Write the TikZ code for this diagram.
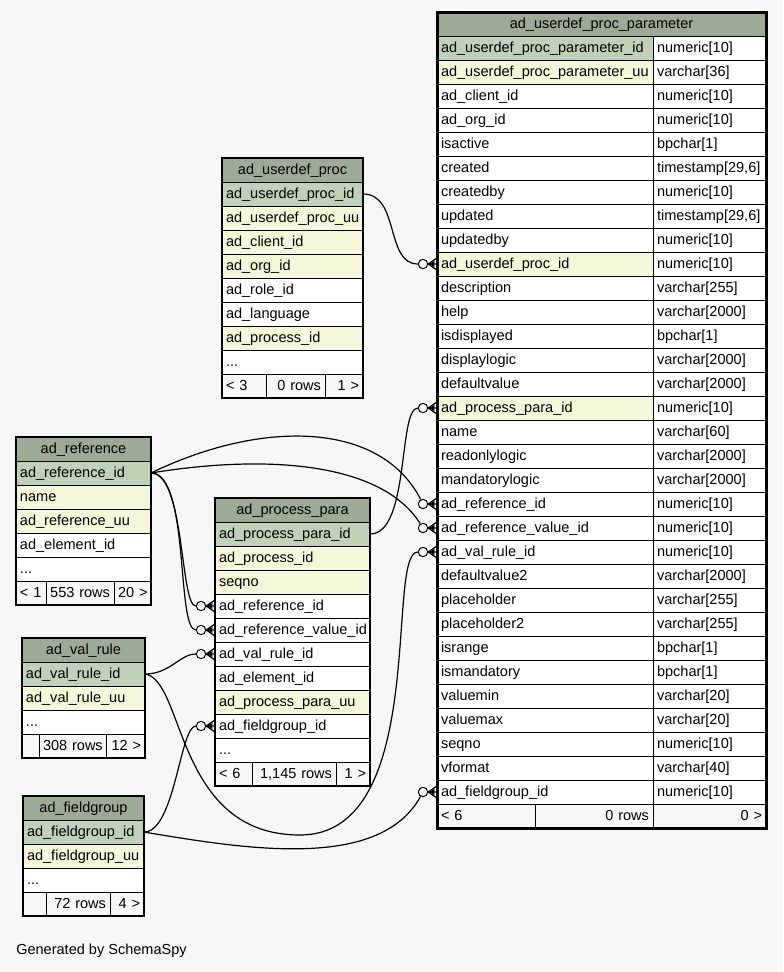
\documentclass[tikz,border=0pt]{standalone}
\usepackage{fontspec}
\setmainfont{Liberation Sans}
\usetikzlibrary{positioning}
\definecolor{bgc}{HTML}{F7F7F7}
\definecolor{hdrc}{HTML}{9DAB96}
\definecolor{pkc}{HTML}{BFD1B8}
\definecolor{fkc}{HTML}{F4F7DA}
\hyphenpenalty=10000
\exhyphenpenalty=10000
% crow's foot between a circle node and a row
\newcommand{\crowfoot}[2]{%
  \draw[line width=0.9pt] ([yshift=4.5pt]#2.west) -- (#1.east) -- ([yshift=-4.5pt]#2.west) (#1.east) -- (#2.west);
  \fill (#1.east) -- ([xshift=-2pt,yshift=2.2pt]#2.west) -- ([xshift=-2pt,yshift=-2.2pt]#2.west) -- cycle;}
\begin{document}
\begin{tikzpicture}[x=0.75pt,y=-0.75pt,
  cell/.style={draw, line width=0.75pt, anchor=north west, outer sep=0pt, inner xsep=3pt, inner ysep=0pt,
    minimum height=18pt, text height=8.5pt, text depth=2.5pt, align=left, font=\fontsize{10.9}{13}\selectfont},
  hdr/.style={cell, fill=hdrc, align=center},
  pk/.style={cell, fill=pkc},
  fk/.style={cell, fill=fkc},
  col/.style={cell, fill=white},
  ft/.style={cell, fill=bgc},
  ftr/.style={ft, align=right},
  odot/.style={circle, draw, line width=0.75pt, fill=bgc, minimum size=7pt, inner sep=0pt},
  link/.style={line width=0.9pt},
  uppn/.style={text width=156pt}, uppt/.style={text width=78.75pt},
  aupw/.style={text width=99.75pt}, refw/.style={text width=95.25pt}, ppw/.style={text width=110.25pt},
  vrw/.style={text width=86.25pt}, fgw/.style={text width=84.75pt}]
\fill[bgc] (0,0) rectangle (783,972);
\useasboundingbox (0,0) rectangle (783,972);

% ad_userdef_proc_parameter
\node[hdr, text width=240.75pt] (upp) at (437,12) {ad\_userdef\_proc\_parameter};
\node[pk, uppn] (upp-id) at (upp.south west) {ad\_userdef\_proc\_parameter\_id};
\node[col, uppt] (upp-id-t) at (upp-id.north east) {numeric[10]};
\node[fk, uppn] (upp-uu) at (upp-id.south west) {ad\_userdef\_proc\_parameter\_uu};
\node[col, uppt] (upp-uu-t) at (upp-uu.north east) {varchar[36]};
\node[col, uppn] (upp-client) at (upp-uu.south west) {ad\_client\_id};
\node[col, uppt] (upp-client-t) at (upp-client.north east) {numeric[10]};
\node[col, uppn] (upp-org) at (upp-client.south west) {ad\_org\_id};
\node[col, uppt] (upp-org-t) at (upp-org.north east) {numeric[10]};
\node[col, uppn] (upp-active) at (upp-org.south west) {isactive};
\node[col, uppt] (upp-active-t) at (upp-active.north east) {bpchar[1]};
\node[col, uppn] (upp-created) at (upp-active.south west) {created};
\node[col, uppt] (upp-created-t) at (upp-created.north east) {timestamp[29,6]};
\node[col, uppn] (upp-createdby) at (upp-created.south west) {createdby};
\node[col, uppt] (upp-createdby-t) at (upp-createdby.north east) {numeric[10]};
\node[col, uppn] (upp-updated) at (upp-createdby.south west) {updated};
\node[col, uppt] (upp-updated-t) at (upp-updated.north east) {timestamp[29,6]};
\node[col, uppn] (upp-updatedby) at (upp-updated.south west) {updatedby};
\node[col, uppt] (upp-updatedby-t) at (upp-updatedby.north east) {numeric[10]};
\node[fk, uppn] (upp-udp) at (upp-updatedby.south west) {ad\_userdef\_proc\_id};
\node[col, uppt] (upp-udp-t) at (upp-udp.north east) {numeric[10]};
\node[col, uppn] (upp-desc) at (upp-udp.south west) {description};
\node[col, uppt] (upp-desc-t) at (upp-desc.north east) {varchar[255]};
\node[col, uppn] (upp-help) at (upp-desc.south west) {help};
\node[col, uppt] (upp-help-t) at (upp-help.north east) {varchar[2000]};
\node[col, uppn] (upp-disp) at (upp-help.south west) {isdisplayed};
\node[col, uppt] (upp-disp-t) at (upp-disp.north east) {bpchar[1]};
\node[col, uppn] (upp-displogic) at (upp-disp.south west) {displaylogic};
\node[col, uppt] (upp-displogic-t) at (upp-displogic.north east) {varchar[2000]};
\node[col, uppn] (upp-defval) at (upp-displogic.south west) {defaultvalue};
\node[col, uppt] (upp-defval-t) at (upp-defval.north east) {varchar[2000]};
\node[fk, uppn] (upp-pp) at (upp-defval.south west) {ad\_process\_para\_id};
\node[col, uppt] (upp-pp-t) at (upp-pp.north east) {numeric[10]};
\node[col, uppn] (upp-name) at (upp-pp.south west) {name};
\node[col, uppt] (upp-name-t) at (upp-name.north east) {varchar[60]};
\node[col, uppn] (upp-rologic) at (upp-name.south west) {readonlylogic};
\node[col, uppt] (upp-rologic-t) at (upp-rologic.north east) {varchar[2000]};
\node[col, uppn] (upp-mandlogic) at (upp-rologic.south west) {mandatorylogic};
\node[col, uppt] (upp-mandlogic-t) at (upp-mandlogic.north east) {varchar[2000]};
\node[col, uppn] (upp-ref) at (upp-mandlogic.south west) {ad\_reference\_id};
\node[col, uppt] (upp-ref-t) at (upp-ref.north east) {numeric[10]};
\node[col, uppn] (upp-refval) at (upp-ref.south west) {ad\_reference\_value\_id};
\node[col, uppt] (upp-refval-t) at (upp-refval.north east) {numeric[10]};
\node[col, uppn] (upp-vr) at (upp-refval.south west) {ad\_val\_rule\_id};
\node[col, uppt] (upp-vr-t) at (upp-vr.north east) {numeric[10]};
\node[col, uppn] (upp-defval2) at (upp-vr.south west) {defaultvalue2};
\node[col, uppt] (upp-defval2-t) at (upp-defval2.north east) {varchar[2000]};
\node[col, uppn] (upp-ph) at (upp-defval2.south west) {placeholder};
\node[col, uppt] (upp-ph-t) at (upp-ph.north east) {varchar[255]};
\node[col, uppn] (upp-ph2) at (upp-ph.south west) {placeholder2};
\node[col, uppt] (upp-ph2-t) at (upp-ph2.north east) {varchar[255]};
\node[col, uppn] (upp-range) at (upp-ph2.south west) {isrange};
\node[col, uppt] (upp-range-t) at (upp-range.north east) {bpchar[1]};
\node[col, uppn] (upp-mand) at (upp-range.south west) {ismandatory};
\node[col, uppt] (upp-mand-t) at (upp-mand.north east) {bpchar[1]};
\node[col, uppn] (upp-vmin) at (upp-mand.south west) {valuemin};
\node[col, uppt] (upp-vmin-t) at (upp-vmin.north east) {varchar[20]};
\node[col, uppn] (upp-vmax) at (upp-vmin.south west) {valuemax};
\node[col, uppt] (upp-vmax-t) at (upp-vmax.north east) {varchar[20]};
\node[col, uppn] (upp-seq) at (upp-vmax.south west) {seqno};
\node[col, uppt] (upp-seq-t) at (upp-seq.north east) {numeric[10]};
\node[col, uppn] (upp-vformat) at (upp-seq.south west) {vformat};
\node[col, uppt] (upp-vformat-t) at (upp-vformat.north east) {varchar[40]};
\node[col, uppn] (upp-fg) at (upp-vformat.south west) {ad\_fieldgroup\_id};
\node[col, uppt] (upp-fg-t) at (upp-fg.north east) {numeric[10]};
\node[ft, text width=67.5pt] (upp-f1) at (upp-fg.south west) {<~6};
\node[ftr, text width=82.5pt] (upp-f2) at (upp-f1.north east) {0~rows};
\node[ftr, text width=78.75pt] (upp-f3) at (upp-f2.north east) {0~>};
\draw[line width=2.25pt] (upp.north west) rectangle (upp-f3.south east);

% ad_userdef_proc
\node[hdr, aupw] (aup) at (222,158) {ad\_userdef\_proc};
\node[pk, aupw] (aup-id) at (aup.south west) {ad\_userdef\_proc\_id};
\node[fk, aupw] (aup-uu) at (aup-id.south west) {ad\_userdef\_proc\_uu};
\node[fk, aupw] (aup-client) at (aup-uu.south west) {ad\_client\_id};
\node[fk, aupw] (aup-org) at (aup-client.south west) {ad\_org\_id};
\node[col, aupw] (aup-role) at (aup-org.south west) {ad\_role\_id};
\node[col, aupw] (aup-lang) at (aup-role.south west) {ad\_language};
\node[fk, aupw] (aup-proc) at (aup-lang.south west) {ad\_process\_id};
\node[col, aupw] (aup-more) at (aup-proc.south west) {...};
\node[ft, text width=27pt] (aup-f1) at (aup-more.south west) {<~3};
\node[ftr, text width=38.25pt] (aup-f2) at (aup-f1.north east) {0~rows};
\node[ftr, text width=22.5pt] (aup-f3) at (aup-f2.north east) {1~>};
\draw[line width=1.1pt] (aup.north west) rectangle (aup-f3.south east);

% ad_reference
\node[hdr, refw] (ref) at (16,437) {ad\_reference};
\node[pk, refw] (ref-id) at (ref.south west) {ad\_reference\_id};
\node[fk, refw] (ref-name) at (ref-id.south west) {name};
\node[fk, refw] (ref-uu) at (ref-name.south west) {ad\_reference\_uu};
\node[col, refw] (ref-elem) at (ref-uu.south west) {ad\_element\_id};
\node[col, refw] (ref-more) at (ref-elem.south west) {...};
\node[ft, text width=16.5pt] (ref-f1) at (ref-more.south west) {<~1};
\node[ftr, text width=45pt] (ref-f2) at (ref-f1.north east) {553~rows};
\node[ftr, text width=21.75pt] (ref-f3) at (ref-f2.north east) {20~>};
\draw[line width=1.1pt] (ref.north west) rectangle (ref-f3.south east);

% ad_process_para
\node[hdr, ppw] (pp) at (215,498) {ad\_process\_para};
\node[pk, ppw] (pp-id) at (pp.south west) {ad\_process\_para\_id};
\node[fk, ppw] (pp-proc) at (pp-id.south west) {ad\_process\_id};
\node[fk, ppw] (pp-seq) at (pp-proc.south west) {seqno};
\node[col, ppw] (pp-ref) at (pp-seq.south west) {ad\_reference\_id};
\node[col, ppw] (pp-refval) at (pp-ref.south west) {ad\_reference\_value\_id};
\node[col, ppw] (pp-vr) at (pp-refval.south west) {ad\_val\_rule\_id};
\node[col, ppw] (pp-elem) at (pp-vr.south west) {ad\_element\_id};
\node[fk, ppw] (pp-uu) at (pp-elem.south west) {ad\_process\_para\_uu};
\node[col, ppw] (pp-fg) at (pp-uu.south west) {ad\_fieldgroup\_id};
\node[col, ppw] (pp-more) at (pp-fg.south west) {...};
\node[ft, text width=21.75pt] (pp-f1) at (pp-more.south west) {<~6};
\node[ftr, text width=57pt] (pp-f2) at (pp-f1.north east) {1,145~rows};
\node[ftr, text width=19.5pt] (pp-f3) at (pp-f2.north east) {1~>};
\draw[line width=1.1pt] (pp.north west) rectangle (pp-f3.south east);

% ad_val_rule
\node[hdr, vrw] (vr) at (22,638) {ad\_val\_rule};
\node[pk, vrw] (vr-id) at (vr.south west) {ad\_val\_rule\_id};
\node[fk, vrw] (vr-uu) at (vr-id.south west) {ad\_val\_rule\_uu};
\node[col, vrw] (vr-more) at (vr-uu.south west) {...};
\node[ft, text width=6.75pt] (vr-f1) at (vr-more.south west) {};
\node[ftr, text width=44.25pt] (vr-f2) at (vr-f1.north east) {308~rows};
\node[ftr, text width=23.25pt] (vr-f3) at (vr-f2.north east) {12~>};
\draw[line width=1.1pt] (vr.north west) rectangle (vr-f3.south east);

% ad_fieldgroup
\node[hdr, fgw] (fg) at (23,796) {ad\_fieldgroup};
\node[pk, fgw] (fg-id) at (fg.south west) {ad\_fieldgroup\_id};
\node[fk, fgw] (fg-uu) at (fg-id.south west) {ad\_fieldgroup\_uu};
\node[col, fgw] (fg-more) at (fg-uu.south west) {...};
\node[ft, text width=11.25pt] (fg-f1) at (fg-more.south west) {};
\node[ftr, text width=42pt] (fg-f2) at (fg-f1.north east) {72~rows};
\node[ftr, text width=19.5pt] (fg-f3) at (fg-f2.north east) {4~>};
\draw[line width=1.1pt] (fg.north west) rectangle (fg-f3.south east);

% circles at the referencing ends
\node[odot] (o-upp-udp) at ([xshift=-10.5pt]upp-udp.west) {};
\node[odot] (o-upp-pp) at ([xshift=-10.5pt]upp-pp.west) {};
\node[odot] (o-upp-ref) at ([xshift=-10.5pt]upp-ref.west) {};
\node[odot] (o-upp-refval) at ([xshift=-10.5pt]upp-refval.west) {};
\node[odot] (o-upp-vr) at ([xshift=-10.5pt]upp-vr.west) {};
\node[odot] (o-upp-fg) at ([xshift=-10.5pt]upp-fg.west) {};
\node[odot] (o-pp-ref) at ([xshift=-10.5pt]pp-ref.west) {};
\node[odot] (o-pp-refval) at ([xshift=-10.5pt]pp-refval.west) {};
\node[odot] (o-pp-vr) at ([xshift=-10.5pt]pp-vr.west) {};
\node[odot] (o-pp-fg) at ([xshift=-10.5pt]pp-fg.west) {};

% relations
\draw[link] (aup-id.east) .. controls (400,194) and (385,264) .. (o-upp-udp);
\draw[link] (pp-id.east) .. controls (410,534) and (398,408) .. (o-upp-pp);
\draw[link] (ref-id.east) .. controls (260,420) and (380,420) .. (o-upp-ref);
\draw[link] (ref-id.east) .. controls (260,455) and (380,460) .. (o-upp-refval);
\draw[link] (ref-id.east) .. controls (185,473) and (180,606) .. (o-pp-ref);
\draw[link] (ref-id.east) .. controls (190,473) and (176,630) .. (o-pp-refval);
\draw[link] (vr-id.east) .. controls (170,674) and (180,654) .. (o-pp-vr);
\draw[link] (vr-id.east) .. controls (185,680) and (175,835) .. (300,835)
  .. controls (430,835) and (385,552) .. (o-upp-vr);
\draw[link] (fg-id.east) .. controls (175,832) and (180,726) .. (o-pp-fg);
\draw[link] (fg-id.east) .. controls (250,850) and (380,870) .. (o-upp-fg);

\crowfoot{o-upp-udp}{upp-udp}
\crowfoot{o-upp-pp}{upp-pp}
\crowfoot{o-upp-ref}{upp-ref}
\crowfoot{o-upp-refval}{upp-refval}
\crowfoot{o-upp-vr}{upp-vr}
\crowfoot{o-upp-fg}{upp-fg}
\crowfoot{o-pp-ref}{pp-ref}
\crowfoot{o-pp-refval}{pp-refval}
\crowfoot{o-pp-vr}{pp-vr}
\crowfoot{o-pp-fg}{pp-fg}

\node[anchor=west, inner sep=0pt, font=\fontsize{10.9}{13}\selectfont] (gen) at (16,951) {Generated by SchemaSpy};
\end{tikzpicture}
\end{document}
